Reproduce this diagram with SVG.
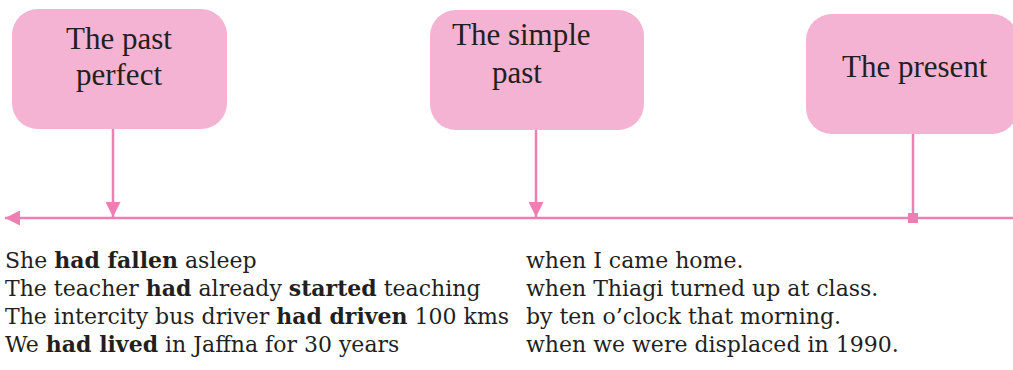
<svg xmlns="http://www.w3.org/2000/svg" width="1013" height="370" viewBox="0 0 1013 370">
<style>
.box{fill:#f4b3d2;}
.bt{font-family:"Liberation Serif","Times New Roman",serif;font-size:31px;fill:#231f20;}
.ln{stroke:#ef7fb2;stroke-width:2.5;fill:none;}
.tx{font-family:"DejaVu Serif",serif;font-size:22px;fill:#231f20;}
.b{font-weight:bold;}
</style>
<defs>
<marker id="ah" viewBox="0 0 10 10" refX="10" refY="5" markerWidth="7" markerHeight="6" orient="auto" markerUnits="strokeWidth">
<path d="M0,0 L10,5 L0,10 Z" fill="#ef7fb2"/>
</marker>
</defs>
<rect width="1013" height="370" fill="#ffffff"/>
<g id="node-past-perfect">
<rect class="box" x="12" y="9" width="215" height="120" rx="26"/>
<text class="bt" x="119" y="49" text-anchor="middle">The past</text>
<text class="bt" x="119" y="85" text-anchor="middle">perfect</text>
</g>
<g id="node-simple-past">
<rect class="box" x="430" y="10" width="214" height="120" rx="26"/>
<text class="bt" x="452" y="45">The simple</text>
<text class="bt" x="492" y="83">past</text>
</g>
<g id="node-present">
<rect class="box" x="806" y="14" width="212" height="120" rx="26"/>
<text class="bt" x="842" y="77">The present</text>
</g>
<g id="connectors">
<line class="ln" x1="1013" y1="218" x2="5" y2="218" marker-end="url(#ah)"/>
<line class="ln" x1="113" y1="129" x2="113" y2="217" marker-end="url(#ah)"/>
<line class="ln" x1="536" y1="130" x2="536" y2="217" marker-end="url(#ah)"/>
<line class="ln" x1="913" y1="134" x2="913" y2="218"/>
<rect x="908" y="213" width="10" height="10" fill="#ef7fb2"/>
</g>
<g id="sentences">
<text class="tx" x="5" y="268">She <tspan class="b">had fallen</tspan> asleep</text>
<text class="tx" x="5" y="296">The teacher <tspan class="b">had</tspan> already <tspan class="b">started</tspan> teaching</text>
<text class="tx" x="5" y="324">The intercity bus driver <tspan class="b">had driven</tspan> 100 kms</text>
<text class="tx" x="5" y="352">We <tspan class="b">had lived</tspan> in Jaffna for 30 years</text>
<text class="tx" x="526" y="268">when I came home.</text>
<text class="tx" x="526" y="296">when Thiagi turned up at class.</text>
<text class="tx" x="526" y="324">by ten o’clock that morning.</text>
<text class="tx" x="526" y="352">when we were displaced in 1990.</text>
</g>
</svg>
